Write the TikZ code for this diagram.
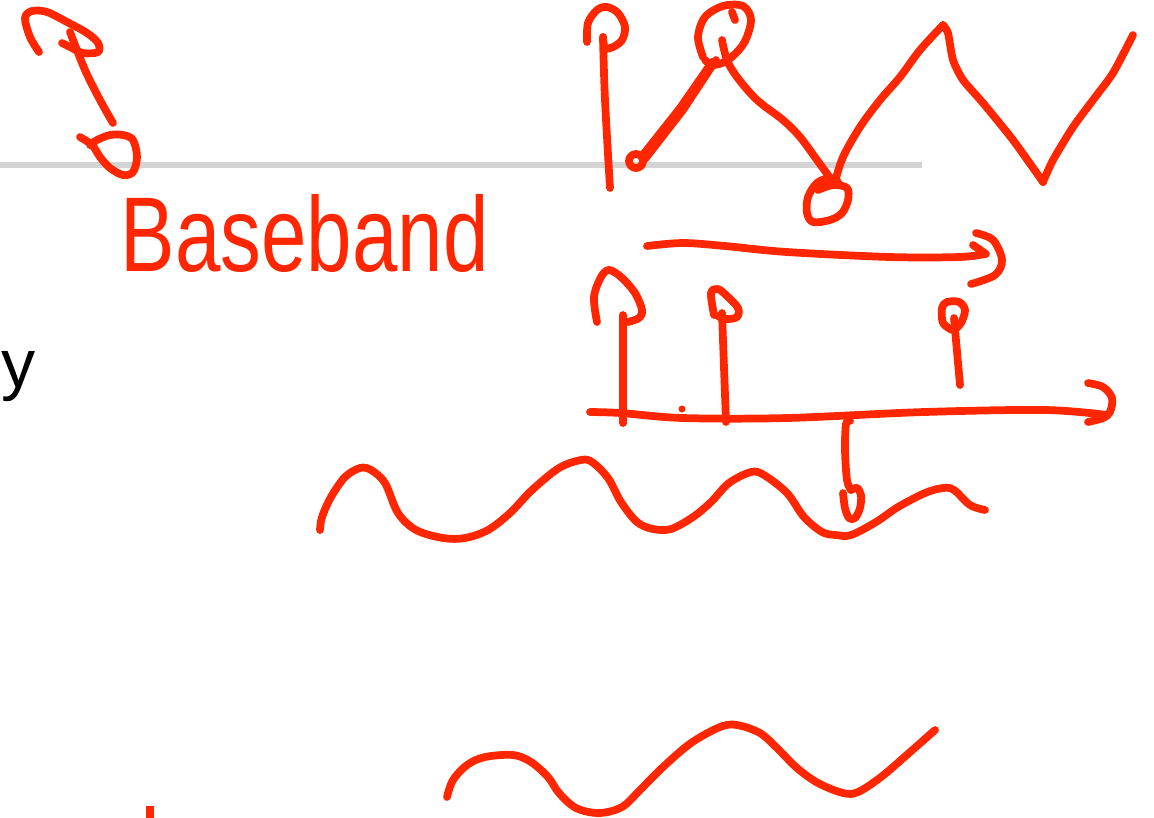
\documentclass[tikz,border=0pt]{standalone}
\usepackage{fontspec}
\setmainfont{Liberation Sans}
\definecolor{ink}{RGB}{255,38,0}
\definecolor{rule}{RGB}{212,212,212}
\begin{document}
\begin{tikzpicture}[x=0.01cm,y=-0.01cm,
  pen/.style={draw=ink,line width=2.2pt,line cap=round,line join=round},
  sm/.style={smooth,tension=0.55}]
\useasboundingbox (0,0) rectangle (1154,817);
% gray rule
\draw[rule,line width=1.7pt] (0,165) -- (922,165);
% black letter
\node[anchor=base west,inner sep=0pt,font=\fontsize{19.4pt}{23pt}\selectfont] (ylabel) at (1,387) {y};
% handwritten word
\node[anchor=base west,inner sep=0pt,text=ink,font=\fontsize{27pt}{32pt}\selectfont] (bb) at (120,271) {\scalebox{0.86}[1.12]{Baseband}};
% top-left hook and D
\draw[pen] plot[sm] coordinates {(39,52) (30,37) (25,18) (32,11) (47,12) (67,22) (87,33) (98,43) (98,52) (83,53) (70,47) (62,43)};
\draw[pen] plot[sm] coordinates {(70,32) (85,70) (100,100) (113,123)};
\draw[pen] plot[sm] coordinates {(80,137) (92,145) (100,157) (110,168) (123,175) (133,172) (137,157) (133,140) (123,135) (110,135) (97,140) (90,145)};
% top-middle lollipop
\draw[pen] plot[sm] coordinates {(587,42) (588,23) (597,10) (607,7) (618,13) (625,27) (622,40) (613,47) (605,48) (603,37)};
\draw[pen] plot[sm] coordinates {(603,37) (605,100) (610,188)};
% small circle + diagonal
\draw[pen] (636,161) circle (7);
\draw[pen] (642,156) -- (680,108) -- (712,62);
\draw[pen] (645,159) -- (683,110) -- (716,60);
% top loop
\draw[pen] plot[sm] coordinates {(703,57) (698,37) (705,17) (723,6) (743,6) (751,20) (744,43) (728,60) (713,65) (705,60)};
\draw[pen] (732,12) -- (735,20);
% descending curve
\draw[pen] plot[sm] coordinates {(722,40) (727,60) (737,77) (757,100) (783,120) (800,137) (817,160) (833,182)};
% bottom small loop
\draw[pen] plot[sm] coordinates {(818,190) (833,185) (847,188) (848,200) (842,213) (830,220) (813,222) (807,213) (808,197) (817,183) (830,178) (838,182)};
% zigzag
\draw[pen] plot[sm] coordinates {(835,182) (843,157) (860,127) (880,100) (900,77) (920,50) (943,25)};
\draw[pen] plot[smooth,tension=0.4] coordinates {(943,25) (948,33) (953,60) (963,80) (983,103) (1013,140) (1043,182)};
\draw[pen] plot[smooth,tension=0.4] coordinates {(1043,182) (1053,160) (1073,127) (1093,100) (1113,73) (1133,35)};
% upper arrow
\draw[pen] plot[sm] coordinates {(647,246) (683,243) (725,246) (787,252) (890,257) (959,257) (985,254)};
\draw[pen] plot[sm] coordinates {(976,233) (993,240) (1002,260) (995,275) (971,284)};
\draw[pen] (973,245) -- (986,254);
% lollipops
\draw[pen] (623,423) -- (623,315);
\draw[pen] plot[sm] coordinates {(597,322) (594,297) (601,277) (609,270) (621,277) (635,293) (642,310) (639,318) (628,322)};
\draw[pen] (726,422) -- (722,313);
\draw[pen] plot[sm] coordinates {(714,315) (711,293) (718,289) (728,297) (738,308) (737,317) (726,319) (718,316)};
\draw[pen] (960,385) -- (954,318);
\draw[pen] plot[sm] coordinates {(952,330) (943,323) (942,308) (947,302) (959,302) (965,310) (961,323) (954,330)};
% axis
\draw[pen] plot[sm] coordinates {(590,412) (621,413) (683,418) (787,418) (924,412) (1045,410) (1107,415)};
\draw[pen] plot[sm] coordinates {(1088,383) (1103,387) (1112,398) (1110,412) (1103,418) (1088,422)};
\fill[ink] (682,409) circle (3.5);
% down arrow
\draw[pen] plot[sm] coordinates {(850,421) (846,424) (845,450) (847,480) (851,490)};
\draw[pen] plot[sm] coordinates {(851,490) (857,488) (861,495) (860,508) (855,518) (849,518) (845,508) (843,493)};
% middle wave
\draw[pen] plot[sm] coordinates {(320,530) (322,517) (331,497) (345,477) (360,468) (371,470) (385,483) (398,513) (416,530) (443,538) (465,538) (488,530) (510,513) (532,490) (559,468) (581,460) (592,462) (608,478) (621,502) (637,522) (653,529) (671,529) (693,517) (711,502) (729,483) (751,472) (764,475) (787,493) (804,517) (822,532) (836,535) (851,535) (876,522) (898,507) (925,493) (943,488) (954,490) (970,505) (985,510)};
% bottom wave
\draw[pen] plot[sm] coordinates {(447,797) (453,780) (467,765) (485,757) (513,755) (531,762) (548,777) (559,793) (576,808) (599,813) (622,807) (640,790) (663,767) (691,743) (720,727) (737,725) (760,733) (777,748) (797,768) (818,783) (843,793) (858,792) (881,777) (909,753) (935,730)};
% bottom-left mark
\draw[draw=ink,line width=2pt] (150,806) -- (150,820);
\end{tikzpicture}
\end{document}
